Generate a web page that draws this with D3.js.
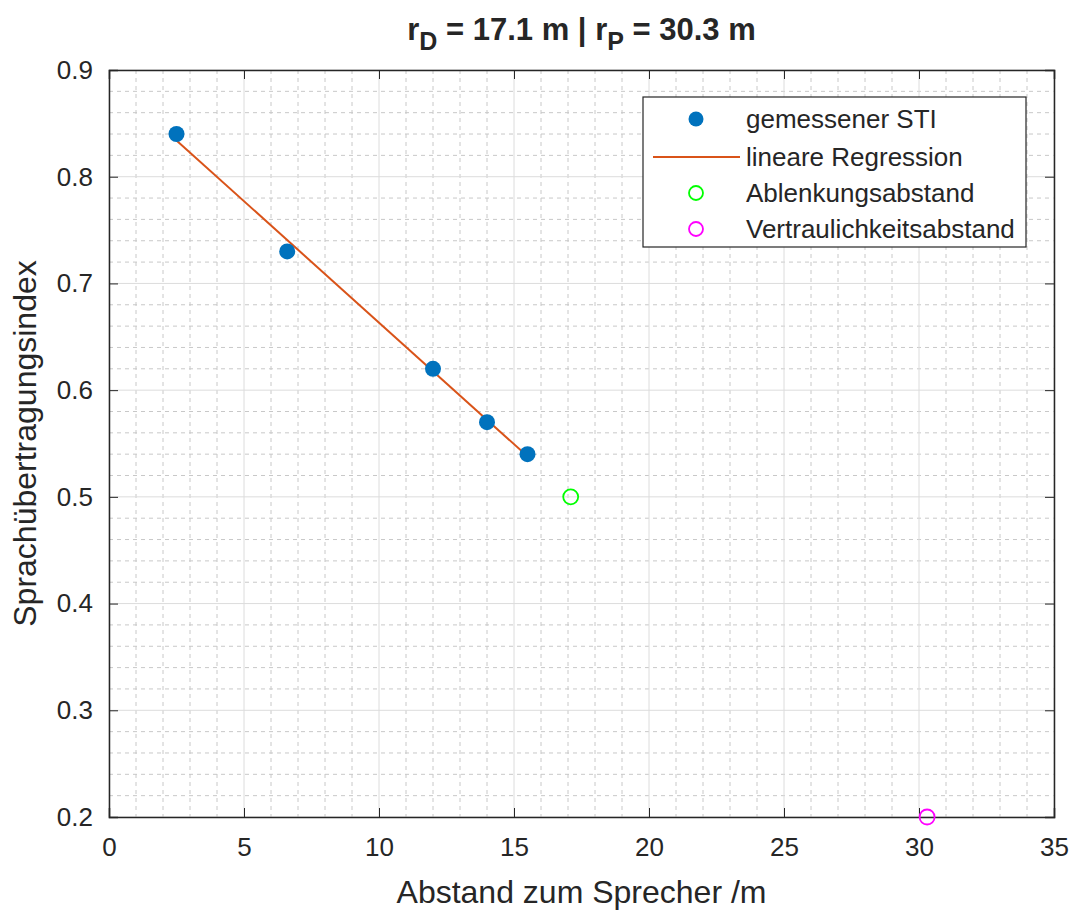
<!DOCTYPE html>
<html>
<head>
<meta charset="utf-8">
<script src="https://cdn.jsdelivr.net/npm/d3@7"></script>
<style>
  body { margin: 0; background: #fff; }
  text { font-family: "Liberation Sans", Arial, sans-serif; fill: #262626; }
</style>
</head>
<body>
<div id="chart"></div>
<script>
// measured points
const distances = [2.5, 6.6, 12, 14, 15.5];
const stiValues = [0.84, 0.73, 0.62, 0.57, 0.54];
// regression endpoints
const regX = [2.5, 15.5];
const regY = [0.834, 0.538];
// distraction / privacy distance
const distraction = [17.1, 0.5];
const privacy = [30.3, 0.2];

const xTicks = [0, 5, 10, 15, 20, 25, 30, 35];
const yTicks = [0.2, 0.3, 0.4, 0.5, 0.6, 0.7, 0.8, 0.9];
const legendLabels = ["gemessener STI", "lineare Regression", "Ablenkungsabstand", "Vertraulichkeitsabstand"];

const W = 1080, H = 913;
const margin = { top: 70, right: 26, bottom: 96, left: 109 };
const iw = W - margin.left - margin.right,
  ih = H - margin.top - margin.bottom;

const svg = d3.select("#chart").append("svg")
  .attr("width", W)
  .attr("height", H);

const g = svg.append("g")
  .attr("transform", `translate(${margin.left},${margin.top})`);

const x = d3.scaleLinear().domain([0, 35]).range([0, iw]);
const y = d3.scaleLinear().domain([0.2, 0.9]).range([ih, 0]);

// minor grid
const xMinor = d3.range(0, 35.01, 1).filter(v => v % 5 !== 0);
const yMinor = d3.range(20, 90.01, 2).map(v => v / 100).filter(v => Math.round(v * 100) % 10 !== 0);

g.append("g").selectAll("line")
  .data(xMinor)
  .join("line")
  .attr("x1", d => x(d)).attr("x2", d => x(d))
  .attr("y1", 0).attr("y2", ih)
  .attr("stroke", "#c8c8c8")
  .attr("stroke-dasharray", "4,4");

g.append("g").selectAll("line")
  .data(yMinor)
  .join("line")
  .attr("y1", d => y(d)).attr("y2", d => y(d))
  .attr("x1", 0).attr("x2", iw)
  .attr("stroke", "#c8c8c8")
  .attr("stroke-dasharray", "4,4");

// major grid
g.append("g").selectAll("line")
  .data(xTicks)
  .join("line")
  .attr("x1", d => x(d)).attr("x2", d => x(d))
  .attr("y1", 0).attr("y2", ih)
  .attr("stroke", "#dcdcdc");

g.append("g").selectAll("line")
  .data(yTicks)
  .join("line")
  .attr("y1", d => y(d)).attr("y2", d => y(d))
  .attr("x1", 0).attr("x2", iw)
  .attr("stroke", "#dcdcdc");

// axes
const tickLen = 9;
const fmtY = d3.format(".1f");

const xAxis = g.append("g")
  .attr("transform", `translate(0,${ih})`)
  .call(d3.axisBottom(x).tickValues(xTicks).tickSize(-tickLen).tickPadding(21).tickFormat(d3.format("d")));
const yAxis = g.append("g")
  .call(d3.axisLeft(y).tickValues(yTicks).tickSize(-tickLen).tickPadding(16).tickFormat(fmtY));
const xTop = g.append("g")
  .call(d3.axisTop(x).tickValues(xTicks).tickSize(-tickLen).tickFormat(""));
const yRight = g.append("g")
  .attr("transform", `translate(${iw},0)`)
  .call(d3.axisRight(y).tickValues(yTicks).tickSize(-tickLen).tickFormat(""));

[xAxis, yAxis, xTop, yRight].forEach(a => {
  a.selectAll(".domain").attr("stroke", "#262626").attr("stroke-width", 1.5);
  a.selectAll(".tick line").attr("stroke", "#262626");
  a.selectAll("text").attr("font-size", 26).attr("fill", "#262626")
    .attr("font-family", "'Liberation Sans', Arial, sans-serif");
});

// regression line
const line = d3.line().x(d => x(d[0])).y(d => y(d[1]));
g.append("path")
  .datum(regX.map((v, i) => [v, regY[i]]))
  .attr("d", line)
  .attr("fill", "none")
  .attr("stroke", "#D95319")
  .attr("stroke-width", 2);

// measured points
g.append("g").selectAll("circle")
  .data(distances.map((v, i) => [v, stiValues[i]]))
  .join("circle")
  .attr("cx", d => x(d[0]))
  .attr("cy", d => y(d[1]))
  .attr("r", 8)
  .attr("fill", "#0072BD");

g.append("circle")
  .attr("cx", x(distraction[0])).attr("cy", y(distraction[1]))
  .attr("r", 7.5).attr("fill", "none")
  .attr("stroke", "#00FF00").attr("stroke-width", 1.8);

g.append("circle")
  .attr("cx", x(privacy[0])).attr("cy", y(privacy[1]))
  .attr("r", 7.5).attr("fill", "none")
  .attr("stroke", "#FF00FF").attr("stroke-width", 1.8);

// title
const title = svg.append("text")
  .attr("x", margin.left + iw / 2)
  .attr("y", 40)
  .attr("text-anchor", "middle")
  .attr("font-size", 31)
  .attr("font-weight", "bold")
  .attr("fill", "#000");
title.append("tspan").text("r");
title.append("tspan").attr("dy", 10).attr("font-size", 25).text("D");
title.append("tspan").attr("dy", -10).text(" = 17.1 m | r");
title.append("tspan").attr("dy", 10).attr("font-size", 25).text("P");
title.append("tspan").attr("dy", -10).text(" = 30.3 m");

// axis labels
svg.append("text")
  .attr("x", margin.left + iw / 2)
  .attr("y", 903)
  .attr("text-anchor", "middle")
  .attr("font-size", 32)
  .text("Abstand zum Sprecher /m");

svg.append("text")
  .attr("transform", `translate(36,${margin.top + ih / 2}) rotate(-90)`)
  .attr("text-anchor", "middle")
  .attr("font-size", 32)
  .text("Sprachübertragungsindex");

// legend
const lg = svg.append("g").attr("transform", "translate(643,97)");
lg.append("rect")
  .attr("width", 383).attr("height", 150)
  .attr("fill", "#fff").attr("stroke", "#262626").attr("stroke-width", 1.2);

const rowY = [22, 60, 96, 132];
const mx = 53;
lg.append("circle").attr("cx", mx).attr("cy", rowY[0]).attr("r", 7.5).attr("fill", "#0072BD");
lg.append("line").attr("x1", 10).attr("x2", 97).attr("y1", rowY[1]).attr("y2", rowY[1])
  .attr("stroke", "#D95319").attr("stroke-width", 2);
lg.append("circle").attr("cx", mx).attr("cy", rowY[2]).attr("r", 7).attr("fill", "none")
  .attr("stroke", "#00FF00").attr("stroke-width", 1.8);
lg.append("circle").attr("cx", mx).attr("cy", rowY[3]).attr("r", 7).attr("fill", "none")
  .attr("stroke", "#FF00FF").attr("stroke-width", 1.8);

lg.selectAll("text.lab")
  .data(legendLabels)
  .join("text")
  .attr("class", "lab")
  .attr("x", 103)
  .attr("y", (d, i) => rowY[i])
  .attr("dy", "0.35em")
  .attr("font-size", 26)
  .text(d => d);
</script>
</body>
</html>
